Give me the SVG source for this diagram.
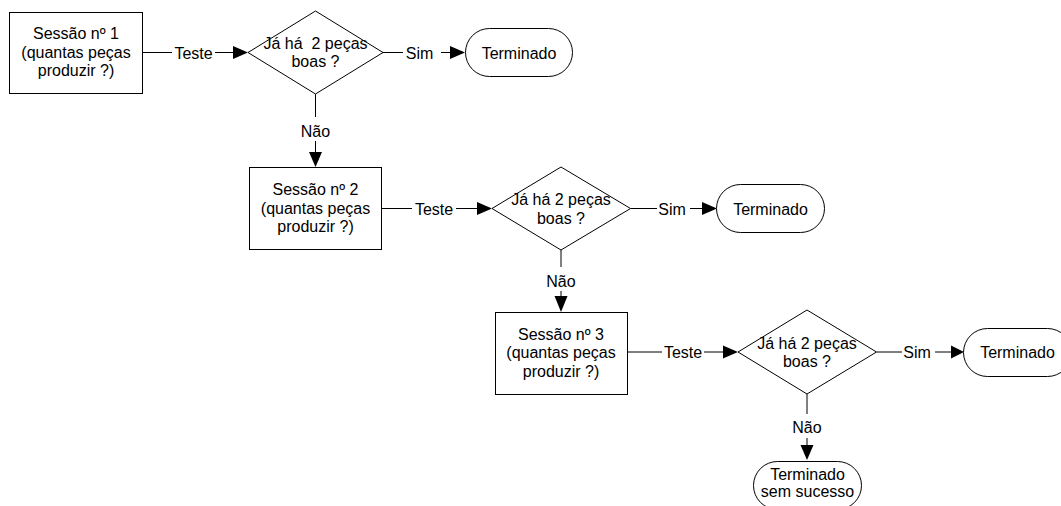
<svg xmlns="http://www.w3.org/2000/svg" width="1061" height="506" viewBox="0 0 1061 506">
  <style>
    .shape { fill: #ffffff; stroke: #000000; stroke-width: 1; }
    .line { stroke: #000000; stroke-width: 1; fill: none; }
    .head { fill: #000000; stroke: none; }
    text { font-family: "Liberation Sans", Arial, sans-serif; font-size: 16px; fill: #000000; text-anchor: middle; }
  </style>
  <rect width="1061" height="506" fill="#ffffff"/>

  <!-- connectors: straight segments broken around their labels, filled triangular heads -->
  <g id="connectors">
    <!-- session 1 -> check 1 -->
    <line class="line" x1="142.5" y1="52.5" x2="172" y2="52.5"/>
    <text x="193.5" y="58.5">Teste</text>
    <line class="line" x1="215" y1="52.5" x2="234" y2="52.5"/>
    <polygon class="head" points="233,46 248,52.5 233,59"/>
    <!-- check 1 -> finished -->
    <line class="line" x1="383" y1="52.5" x2="403" y2="52.5"/>
    <text x="419.5" y="58.5">Sim</text>
    <line class="line" x1="441" y1="52.5" x2="451" y2="52.5"/>
    <polygon class="head" points="450,46 465,52.5 450,59"/>
    <!-- check 1 -> session 2 -->
    <line class="line" x1="315.5" y1="94" x2="315.5" y2="117"/>
    <text x="315.5" y="137">Não</text>
    <line class="line" x1="315.5" y1="141" x2="315.5" y2="153"/>
    <polygon class="head" points="309,152 322,152 315.5,167"/>

    <!-- session 2 -> check 2 -->
    <line class="line" x1="381.5" y1="208.5" x2="412" y2="208.5"/>
    <text x="434" y="214.5">Teste</text>
    <line class="line" x1="456" y1="208.5" x2="478" y2="208.5"/>
    <polygon class="head" points="477,202 492,208.5 477,215"/>
    <!-- check 2 -> finished -->
    <line class="line" x1="630.5" y1="208.5" x2="657" y2="208.5"/>
    <text x="672" y="214.5">Sim</text>
    <line class="line" x1="690" y1="208.5" x2="703" y2="208.5"/>
    <polygon class="head" points="702,202 717,208.5 702,215"/>
    <!-- check 2 -> session 3 -->
    <line class="line" x1="561" y1="250" x2="561" y2="267"/>
    <text x="561" y="287">Não</text>
    <line class="line" x1="561" y1="291" x2="561" y2="297"/>
    <polygon class="head" points="554.5,296 567.5,296 561,312"/>

    <!-- session 3 -> check 3 -->
    <line class="line" x1="627.5" y1="352" x2="662" y2="352"/>
    <text x="683" y="358">Teste</text>
    <line class="line" x1="704" y1="352" x2="724" y2="352"/>
    <polygon class="head" points="723,345.5 738,352 723,358.5"/>
    <!-- check 3 -> finished -->
    <line class="line" x1="876.5" y1="352" x2="902" y2="352"/>
    <text x="917" y="358">Sim</text>
    <line class="line" x1="935" y1="352" x2="952" y2="352"/>
    <polygon class="head" points="951,345.5 964,352 951,358.5"/>
    <!-- check 3 -> finished without success -->
    <line class="line" x1="807" y1="394" x2="807" y2="414"/>
    <text x="807" y="433">Não</text>
    <line class="line" x1="807" y1="438" x2="807" y2="446"/>
    <polygon class="head" points="800.5,445 813.5,445 807,460"/>
  </g>

  <!-- process boxes -->
  <g id="sessao1">
    <rect class="shape" x="9.5" y="12.5" width="133" height="81"/>
    <text x="76" y="39">Sessão nº 1</text>
    <text x="76" y="57.5">(quantas peças</text>
    <text x="76" y="76">produzir ?)</text>
  </g>
  <g id="sessao2">
    <rect class="shape" x="249.5" y="167.5" width="132" height="82"/>
    <text x="315.5" y="195">Sessão nº 2</text>
    <text x="315.5" y="213.5">(quantas peças</text>
    <text x="315.5" y="232">produzir ?)</text>
  </g>
  <g id="sessao3">
    <rect class="shape" x="495.5" y="312.5" width="132" height="82"/>
    <text x="561" y="339.5">Sessão nº 3</text>
    <text x="561" y="358">(quantas peças</text>
    <text x="561" y="376.5">produzir ?)</text>
  </g>

  <!-- decisions -->
  <g id="decisao1">
    <polygon class="shape" points="248,52.5 315.5,11 383,52.5 315.5,94"/>
    <text x="315.5" y="48.5" xml:space="preserve">Já há  2 peças</text>
    <text x="315.5" y="67">boas ?</text>
  </g>
  <g id="decisao2">
    <polygon class="shape" points="492,208.5 561,167 630.5,208.5 561,250"/>
    <text x="561" y="205">Já há 2 peças</text>
    <text x="561" y="223.5">boas ?</text>
  </g>
  <g id="decisao3">
    <polygon class="shape" points="738,352 807,310 876.5,352 807,394"/>
    <text x="807" y="349">Já há 2 peças</text>
    <text x="807" y="367">boas ?</text>
  </g>

  <!-- terminators -->
  <g id="terminado1">
    <rect class="shape" x="465.5" y="28.5" width="107" height="48" rx="24" ry="24"/>
    <text x="519" y="58.5">Terminado</text>
  </g>
  <g id="terminado2">
    <rect class="shape" x="716.5" y="184.5" width="108" height="48" rx="24" ry="24"/>
    <text x="770.5" y="214.5">Terminado</text>
  </g>
  <g id="terminado3">
    <rect class="shape" x="963.5" y="328.5" width="108" height="48" rx="24" ry="24"/>
    <text x="1017.5" y="358">Terminado</text>
  </g>
  <g id="terminado-sem-sucesso">
    <rect class="shape" x="753.5" y="461.5" width="108" height="48" rx="24" ry="24"/>
    <text x="807.5" y="480">Terminado</text>
    <text x="807.5" y="497">sem sucesso</text>
  </g>
</svg>
